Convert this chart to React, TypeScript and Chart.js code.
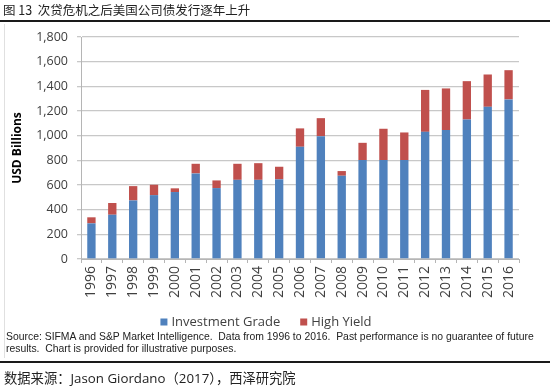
import React, { useEffect, useRef } from "react";
import { Chart, registerables } from "chart.js";

Chart.register(...registerables);

const years = ["1996", "1997", "1998", "1999", "2000", "2001", "2002", "2003", "2004", "2005", "2006", "2007", "2008", "2009", "2010", "2011", "2012", "2013", "2014", "2015", "2016"];
const investmentGrade = [289, 359, 475, 518, 543, 694, 575, 642, 642, 646, 910, 996, 675, 802, 802, 802, 1031, 1045, 1131, 1234, 1294];
const highYield = [49, 95, 116, 84, 30, 78, 62, 130, 135, 102, 149, 146, 38, 140, 254, 224, 340, 338, 311, 262, 237];
const seriesNames = ["Investment Grade", "High Yield"];
const seriesColors = ["#4F81BD", "#C0504D"];
const yMax = 1800;
const yStep = 200;
const yTitle = "USD Billions";
const figureTitle = "图 13  次贷危机之后美国公司债发行逐年上升";
const noteLines = [
  "Source: SIFMA and S&P Market Intelligence.  Data from 1996 to 2016.  Past performance is no guarantee of future",
  "results.  Chart is provided for illustrative purposes.",
];
const sourcePrefix = "数据来源：";
const sourceBody = "Jason Giordano（2017），西泽研究院";

const legendPlugin = {
  id: "customLegend",
  afterDraw(chart: any) {
    const ctx = chart.ctx;
    ctx.save();
    ctx.font = "13px 'Open Sans'";
    ctx.textBaseline = "middle";
    const box = 7;
    const gapBox = 4;
    const gapItem = 20;
    const items = chart.data.datasets.map((ds: any) => ({
      label: ds.label,
      color: ds.backgroundColor,
      w: ctx.measureText(ds.label).width,
    }));
    let total = 0;
    items.forEach((it: any, i: number) => {
      total += box + gapBox + it.w + (i < items.length - 1 ? gapItem : 0);
    });
    let x = 266 - total / 2;
    const y = 322;
    items.forEach((it: any) => {
      ctx.fillStyle = it.color;
      ctx.fillRect(x, y - box / 2, box, box);
      ctx.fillStyle = "#404040";
      ctx.fillText(it.label, x + box + gapBox, y + 0.5);
      x += box + gapBox + it.w + gapItem;
    });
    ctx.restore();
  },
};

function App() {
  const ref = useRef<HTMLCanvasElement | null>(null);
  useEffect(() => {
    if (!ref.current) return;
    const chart = new Chart(ref.current, {
      type: "bar",
      data: {
        labels: years,
        datasets: [
          { label: seriesNames[0], data: investmentGrade, backgroundColor: seriesColors[0], barPercentage: 0.4, categoryPercentage: 1 },
          { label: seriesNames[1], data: highYield, backgroundColor: seriesColors[1], barPercentage: 0.4, categoryPercentage: 1 },
        ],
      },
      options: {
        responsive: false,
        animation: false,
        devicePixelRatio: 1,
        layout: { padding: { top: 37, right: 31, bottom: 91, left: 0 } },
        plugins: { legend: { display: false }, tooltip: { enabled: false } },
        scales: {
          x: {
            stacked: true,
            ticks: {
              minRotation: 90,
              maxRotation: 90,
              autoSkip: false,
              padding: 3,
              color: "#404040",
              font: { family: "Open Sans", size: 14 },
            },
            grid: { display: true, drawOnChartArea: false, offset: true, tickLength: 4, color: "#b5b5b5" },
            border: { display: true, color: "#b5b5b5" },
            afterFit: (s: any) => {
              s.height = 41;
            },
          },
          y: {
            stacked: true,
            min: 0,
            max: yMax,
            ticks: {
              stepSize: yStep,
              padding: 9,
              color: "#404040",
              font: { family: "Open Sans", size: 12.5 },
              callback: (v: any) => Number(v).toLocaleString("en-US"),
            },
            grid: { color: "#c8c8c8", lineWidth: 1.3, tickLength: 4 },
            border: { display: true, color: "#b5b5b5" },
            title: {
              display: true,
              text: yTitle,
              color: "#000",
              font: { family: "Open Sans", size: 12, weight: "bold" },
              padding: { top: 10, bottom: 0 },
            },
            afterFit: (s: any) => {
              s.width = 81;
            },
          },
        },
      },
      plugins: [legendPlugin],
    });
    return () => chart.destroy();
  }, []);

  return (
    <div style={{ position: "fixed", left: 0, top: 0, width: 550, height: 391, background: "#fff", overflow: "hidden" }}>
      <canvas ref={ref} width={550} height={391} style={{ position: "absolute", left: 0, top: 0, width: 550, height: 391 }} />
      <div style={{ position: "absolute", left: 3, top: 2, fontFamily: "'Noto Sans CJK SC'", fontSize: 12.5, color: "#222", whiteSpace: "pre", lineHeight: "16px" }}>
        {figureTitle}
      </div>
      <div style={{ position: "absolute", left: 0, top: 20, width: 550, height: 2, background: "#1a1a1a" }} />
      <div style={{ position: "absolute", left: 4, top: 24, width: 1, height: 334, background: "#e0e0e0" }} />
      <div style={{ position: "absolute", left: 6, top: 331, fontFamily: "'Liberation Sans', Arial", fontSize: 10.4, color: "#222", whiteSpace: "pre", lineHeight: "12px" }}>
        {noteLines.map((l, i) => (
          <div key={i}>{l}</div>
        ))}
      </div>
      <div style={{ position: "absolute", left: 0, top: 361, width: 550, height: 2, background: "#1a1a1a" }} />
      <div style={{ position: "absolute", left: 4, top: 369, fontFamily: "'Noto Sans CJK SC'", fontSize: 13.3, color: "#222", whiteSpace: "pre", lineHeight: "18px" }}>
        <span>{sourcePrefix}</span>
        <span style={{ fontFamily: "'Open Sans', 'Noto Sans CJK SC'" }}>{sourceBody}</span>
      </div>
    </div>
  );
}

export default App;
